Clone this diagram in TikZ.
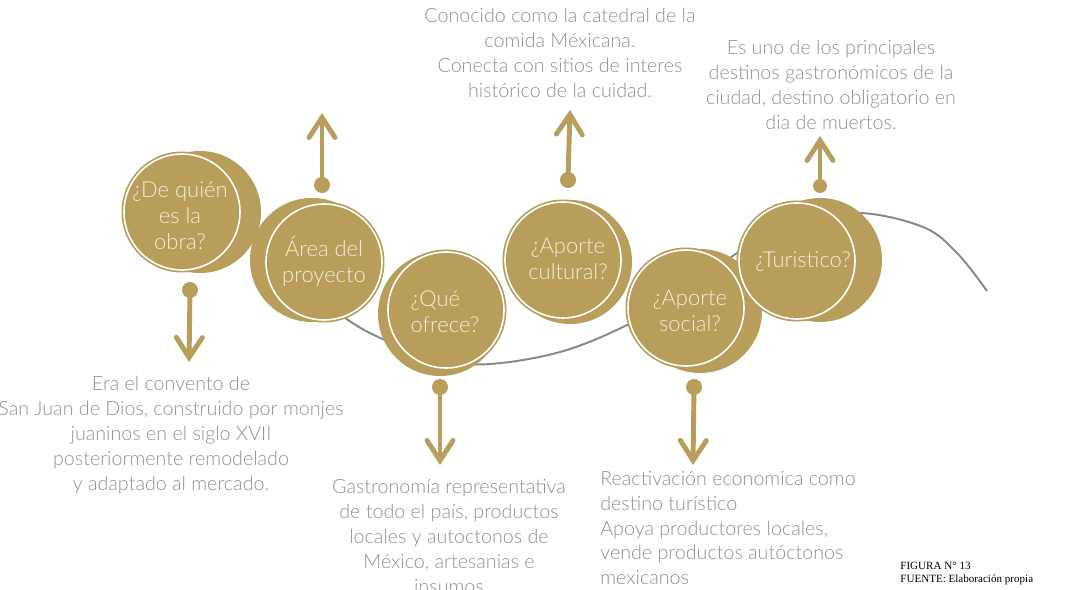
\documentclass[tikz,border=0pt]{standalone}
\usepackage{fontspec}
\setmainfont{Lato Light}
\newfontfamily\piefont{Liberation Serif}
\usetikzlibrary{arrows.meta}
\definecolor{oro}{RGB}{185,157,91}
\definecolor{gristexto}{RGB}{145,145,145}
\definecolor{grislinea}{RGB}{135,135,140}
\definecolor{crema}{RGB}{246,238,220}
\tikzset{
  sombra/.style={fill=oro},
  aro/.style={draw=white, line width=0.9pt},
  pregunta/.style={text=crema, align=center, inner sep=0pt, font=\fontsize{12.5}{14.8}\selectfont},
  punto/.style={circle, fill=oro, inner sep=0pt, minimum size=0.32cm},
  flecha/.style={draw=oro, line width=2.8pt, line cap=round,
    -{Straight Barb[length=0.4cm, width=0.52cm, line cap=round]}},
  nota/.style={text=gristexto, align=center, inner sep=0pt, font=\fontsize{11.2}{14.2}\selectfont}
}
\begin{document}
\begin{tikzpicture}
            \fill[white] (0, 0) rectangle (21.34, 11.78);
            \useasboundingbox (0, 0) rectangle (21.34, 11.78);

            \draw[grislinea, line width=1.1pt] plot[smooth, tension=0.6] coordinates {(4.60, 7.34) (5.04, 6.98) (6.00, 6.12) (6.96, 5.38) (7.70, 4.98) (8.80, 4.58) (9.80, 4.50) (11.20, 4.74) (12.46, 5.24) (13.80, 5.98) (14.60, 6.62) (15.06, 6.90) (16.00, 7.34) (17.20, 7.52) (18.46, 7.24) (19.14, 6.72) (19.74, 5.96)};

            \fill[sombra] (4.00, 7.54) circle (1.22);
            \fill[oro] (3.64, 7.54) circle (1.21);
            \draw[aro] (3.64, 7.54) circle (1.16);
            \node[pregunta] (q1) at (3.60, 7.46) {¿De quién\\es la\\obra?};

            \fill[sombra] (6.24, 6.58) circle (1.24);
            \fill[oro] (6.48, 6.54) circle (1.21);
            \draw[aro] (6.48, 6.54) circle (1.16);
            \node[pregunta] (q2) at (6.48, 6.56) {Área del\\proyecto};

            \fill[sombra] (8.80, 5.50) circle (1.24);
            \fill[oro] (8.92, 5.58) circle (1.21);
            \draw[aro] (8.92, 5.58) circle (1.16);
            \node[pregunta, align=left] (q3) at (8.90, 5.54) {¿Qué\\ofrece?};

            \fill[sombra] (11.40, 6.54) circle (1.24);
            \fill[oro] (11.26, 6.58) circle (1.21);
            \draw[aro] (11.26, 6.58) circle (1.16);
            \node[pregunta] (q4) at (11.36, 6.60) {¿Aporte\\cultural?};

            \fill[sombra] (14.00, 5.56) circle (1.24);
            \fill[oro] (13.72, 5.62) circle (1.21);
            \draw[aro] (13.72, 5.62) circle (1.16);
            \node[pregunta] (q5) at (13.80, 5.56) {¿Aporte\\social?};

            \fill[sombra] (16.40, 6.58) circle (1.24);
            \fill[oro] (15.94, 6.56) circle (1.21);
            \draw[aro] (15.94, 6.56) circle (1.16);
            \node[pregunta] (q6) at (16.06, 6.54) {¿Turistico?};

            \node[punto] (p1) at (3.80, 5.98) {};
            \node[punto] (p2) at (6.44, 8.08) {};
            \node[punto] (p3) at (8.80, 4.04) {};
            \node[punto] (p4) at (11.36, 8.18) {};
            \node[punto] (p5) at (13.88, 4.04) {};
            \node[punto, minimum size=0.28cm] (p6) at (16.40, 8.06) {};

            \coordinate (f1) at (3.78, 4.54);
            \coordinate (f2) at (6.44, 9.52);
            \coordinate (f3) at (8.80, 2.48);
            \coordinate (f4) at (11.40, 9.58);
            \coordinate (f5) at (13.86, 2.48);
            \coordinate (f6) at (16.40, 9.06);

            \draw[flecha] (p1.center) -- (f1);
            \draw[flecha] (p2.center) -- (f2);
            \draw[flecha] (p3.center) -- (f3);
            \draw[flecha] (p4.center) -- (f4);
            \draw[flecha] (p5.center) -- (f5);
            \draw[flecha] (p6.center) -- (f6);

            \node[nota] (n1) at (3.42, 3.08) {Era el convento de\\San Juan de Dios, construido por monjes\\juaninos en el siglo XVII\\posteriormente remodelado\\y adaptado al mercado.};
            \node[nota] (n2) at (11.20, 10.72) {Conocido como la catedral de la\\comida Méxicana.\\Conecta con sitios de interes\\histórico de la cuidad.};
            \node[nota] (n3) at (16.62, 10.08) {Es uno de los principales\\destinos gastronómicos de la\\ciudad, destino obligatorio en\\dia de muertos.};
            \node[nota] (n4) at (8.98, 1.05) {Gastronomía representativa\\de todo el país, productos\\locales y autoctonos de\\México, artesanias e\\insumos};
            \node[nota, align=left, anchor=west] (n5) at (12.00, 1.22) {Reactivación economica como\\destino turístico\\Apoya productores locales,\\vende productos autóctonos\\mexicanos};

            \node[align=left, anchor=west, inner sep=0pt, font=\piefont\fontsize{6.3}{7.4}\selectfont] (pie) at (18.00, 0.31) {FIGURA N° 13\\FUENTE: Elaboración propia};
        \end{tikzpicture}
\end{document}
